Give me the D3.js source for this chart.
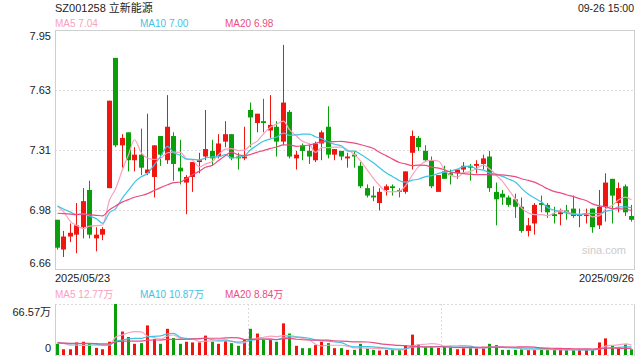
<!DOCTYPE html>
<html><head><meta charset="utf-8">
<script src="https://cdn.jsdelivr.net/npm/d3@7"></script>
<style>
body{margin:0;background:#fff}
svg{display:block;font-family:"Liberation Sans",Arial,"Noto Sans CJK SC",sans-serif}
</style>
</head><body>
<svg id="c" width="640" height="360"></svg>
<script>
// ---------- data ----------
const title = "SZ001258 立新能源";
const timeLabel = "09-26 15:00";
const dateLabels = ["2025/05/23", "2025/09/26"];
const priceTicks = [6.66, 6.9825, 7.305, 7.6275, 7.95];
const priceTickLabels = ["6.66", "6.98", "7.31", "7.63", "7.95"];
const volMax = 66.57;
const volTickLabels = ["0", "66.57万"];
const maNames = ["MA5", "MA10", "MA20"];
const maPeriods = [5, 10, 20];
const maPriceLabels = ["7.04", "7.00", "6.98"];
const maVolLabels = ["12.77万", "10.87万", "8.84万"];
const watermark = "sina.com";

const opens = [6.93,6.77,6.84,6.85,6.89,7.09,6.83,6.85,7.10,7.80,
 7.33,7.40,7.25,7.28,7.18,7.16,7.38,7.25,7.38,7.21,
 7.13,7.16,7.24,7.27,7.30,7.27,7.35,7.39,7.27,7.26,
 7.52,7.45,7.46,7.41,7.43,7.35,7.51,7.26,7.33,7.30,
 7.25,7.34,7.43,7.28,7.30,7.26,7.28,7.22,7.10,7.06,
 7.02,7.09,7.11,7.09,7.08,7.29,7.37,7.30,7.25,7.08,
 7.19,7.18,7.18,7.20,7.22,7.22,7.23,7.27,7.08,7.07,
 7.05,7.04,7.00,6.87,6.91,7.02,7.01,6.96,6.96,6.98,
 6.99,6.95,6.95,6.99,6.90,7.00,7.15,7.02,7.11,6.95];
const closes = [6.78,6.84,6.86,6.90,7.03,6.85,6.85,6.88,7.57,7.33,
 7.37,7.25,7.28,7.21,7.20,7.33,7.28,7.43,7.23,7.19,
 7.16,7.24,7.25,7.31,7.26,7.34,7.39,7.26,7.26,7.27,
 7.48,7.50,7.45,7.44,7.35,7.56,7.27,7.28,7.30,7.27,
 7.34,7.40,7.28,7.31,7.27,7.27,7.27,7.11,7.06,7.05,
 7.08,7.11,7.10,7.08,7.19,7.38,7.32,7.25,7.11,7.17,
 7.15,7.17,7.20,7.22,7.21,7.23,7.26,7.10,7.04,7.05,
 7.01,7.00,6.87,6.90,7.01,7.01,6.97,6.95,6.97,6.97,
 6.95,6.96,6.96,6.89,7.00,7.13,7.06,7.10,6.97,6.93];
const highs = [6.93,6.87,6.91,7.02,7.10,7.14,6.89,6.89,7.57,7.80,
 7.39,7.40,7.32,7.42,7.50,7.33,7.38,7.60,7.40,7.36,
 7.17,7.24,7.29,7.52,7.36,7.39,7.46,7.39,7.29,7.43,
 7.56,7.50,7.58,7.60,7.46,7.87,7.52,7.30,7.34,7.34,
 7.35,7.41,7.54,7.31,7.30,7.29,7.30,7.24,7.12,7.11,
 7.10,7.12,7.12,7.10,7.19,7.41,7.38,7.33,7.27,7.17,
 7.22,7.20,7.20,7.24,7.23,7.25,7.28,7.30,7.13,7.09,
 7.06,7.07,7.05,6.94,7.02,7.06,7.02,7.00,6.99,7.01,
 7.06,6.99,6.99,6.99,7.09,7.18,7.15,7.13,7.12,7.01];
const lows = [6.77,6.73,6.81,6.75,6.83,6.83,6.76,6.82,7.10,7.32,
 7.21,7.19,7.19,7.17,7.17,7.05,7.22,7.23,7.14,7.12,
 6.96,7.08,7.18,7.25,7.22,7.26,7.32,7.25,7.20,7.25,
 7.32,7.40,7.40,7.37,7.27,7.33,7.26,7.20,7.25,7.23,
 7.24,7.25,7.26,7.25,7.25,7.21,7.21,7.10,7.05,7.03,
 6.98,7.06,7.06,7.05,7.07,7.20,7.30,7.24,7.10,7.08,
 7.15,7.12,7.15,7.18,7.14,7.18,7.20,7.08,6.90,7.01,
 7.00,6.94,6.86,6.84,6.85,6.97,6.94,6.91,6.90,6.93,
 6.94,6.89,6.91,6.86,6.88,6.92,6.91,6.97,6.95,6.92];
// closes of the 19 sessions before the first visible one (estimated from the MA lines)
const prevCloses = [6.88,6.92,6.95,6.98,6.90,6.92,6.94,6.91,6.93,6.93,
 7.00,7.03,7.02,7.00,6.97,6.99,7.13,7.00,7.12];
// volumes in 万
const volumes = [14.6,7.5,7.5,16.4,17.3,14.6,9.3,7.5,17.3,66.57,
 30.6,23.5,14.6,15.5,38.6,20.9,14.6,34.2,22.2,14.6,
 17.3,16.4,16.4,25.3,17.3,14.6,18.2,15.5,12.0,20.9,
 34.2,28.0,20.0,20.0,17.3,41.3,28.0,12.0,8.9,8.9,
 12.9,17.3,15.5,8.9,8.9,6.7,6.7,14.6,8.4,6.7,
 5.8,6.7,6.7,6.7,12.9,26.6,13.8,10.2,10.2,9.3,
 11.1,9.3,7.5,9.3,9.3,9.3,9.3,14.6,12.9,6.7,
 6.7,6.7,7.5,6.7,7.5,7.5,6.5,6.5,6.5,6.5,
 6.5,6.5,6.5,6.7,16.4,21.7,12.0,9.3,13.8,7.5];
const prevVolumes = [14,16,18,15,13,17,16,14,15,18,16,15,14,17,16,15,19,17,18];

// ---------- layout / style ----------
const L = 55, R = 634, T = 30, B = 270, VT = 304, VB = 355;
const UP = "#f0150f", DOWN = "#0a9e0a";
const maColors = ["#fba0bf", "#3fc4e4", "#ec4c83"];
const gridColor = "#dcdcdc", frameColor = "#cfcfcf", textColor = "#222";

const svg = d3.select("#c");
const n = closes.length;
const x = d3.scaleBand().domain(d3.range(n)).range([L, R]).paddingInner(0.22).paddingOuter(0);
const cx = i => Math.floor(x(i) + x.bandwidth() / 2) + 0.5;
const y = d3.scaleLinear().domain([priceTicks[0], priceTicks[priceTicks.length - 1]]).range([B, T]);
const yv = d3.scaleLinear().domain([0, volMax]).range([VB, VT]);

function movingAvg(prev, vals, p) {
  const all = prev.concat(vals), off = prev.length;
  return vals.map((_, i) => d3.mean(all.slice(off + i - p + 1, off + i + 1)));
}

// grid
svg.append("g").selectAll("line").data(priceTicks.slice(1, -1)).join("line")
  .attr("x1", L).attr("x2", R)
  .attr("y1", d => Math.round(y(d)) + 0.5).attr("y2", d => Math.round(y(d)) + 0.5)
  .attr("stroke", gridColor).attr("stroke-dasharray", "2,2");

// main frame
svg.append("rect").attr("x", L + 0.5).attr("y", T + 0.5).attr("width", R - L).attr("height", B - T - 1)
  .attr("fill", "none").attr("stroke", frameColor);

// volume frame
[VT, VB].forEach(v => svg.append("line").attr("x1", L).attr("x2", R + 1)
  .attr("y1", v + 0.5).attr("y2", v + 0.5).attr("stroke", gridColor).attr("stroke-dasharray", "2,2"));
[L, R].forEach(v => svg.append("line").attr("x1", v + 0.5).attr("x2", v + 0.5)
  .attr("y1", VT).attr("y2", VB + 1).attr("stroke", frameColor));
[1, 2].forEach(k => {
  const vx = Math.round(L + (R - L) * k / 3) + 0.5;
  svg.append("line").attr("x1", vx).attr("x2", vx).attr("y1", VT).attr("y2", VB)
    .attr("stroke", gridColor).attr("stroke-dasharray", "2,2");
});

// watermark
svg.append("text").attr("x", 582).attr("y", 254).attr("font-size", 11)
  .attr("fill", "#cccccc").text(watermark);

// candles
const idx = d3.range(n);
const colorOf = i => closes[i] >= opens[i] ? UP : DOWN;
const cg = svg.append("g");
cg.selectAll("line").data(idx).join("line")
  .attr("x1", cx).attr("x2", cx)
  .attr("y1", i => y(highs[i])).attr("y2", i => y(lows[i]))
  .attr("stroke", colorOf).attr("stroke-width", 1);
cg.selectAll("rect").data(idx).join("rect")
  .attr("x", i => cx(i) - 2.5).attr("width", 5)
  .attr("y", i => y(Math.max(opens[i], closes[i])))
  .attr("height", i => Math.max(1, y(Math.min(opens[i], closes[i])) - y(Math.max(opens[i], closes[i]))))
  .attr("fill", colorOf);

// volume bars
svg.append("g").selectAll("rect").data(idx).join("rect")
  .attr("x", i => cx(i) - 1.5).attr("width", 3)
  .attr("y", i => yv(volumes[i])).attr("height", i => VB - yv(volumes[i]))
  .attr("fill", colorOf);

// MA lines
maPeriods.forEach((p, k) => {
  const m = movingAvg(prevCloses, closes, p);
  svg.append("path").datum(m)
    .attr("d", d3.line().x((d, i) => cx(i)).y(d => y(d)).curve(d3.curveMonotoneX))
    .attr("fill", "none").attr("stroke", maColors[k]).attr("stroke-width", 1.2);
  const mv = movingAvg(prevVolumes, volumes, p);
  svg.append("path").datum(mv)
    .attr("d", d3.line().x((d, i) => cx(i)).y(d => yv(d)).curve(d3.curveMonotoneX))
    .attr("fill", "none").attr("stroke", maColors[k]).attr("stroke-width", 1.2);
});

// texts
svg.append("text").attr("x", L).attr("y", 12).attr("font-size", 11).attr("fill", textColor).text(title);
svg.append("text").attr("x", R).attr("y", 12).attr("font-size", 10.5).attr("fill", textColor)
  .attr("text-anchor", "end").text(timeLabel);
const maX = [L, 140, 225];
maNames.forEach((nm, k) => {
  svg.append("text").attr("x", maX[k]).attr("y", 27).attr("font-size", 10).attr("fill", maColors[k])
    .text(nm + " " + maPriceLabels[k]);
  svg.append("text").attr("x", maX[k]).attr("y", 298).attr("font-size", 10).attr("fill", maColors[k])
    .text(nm + " " + maVolLabels[k]);
});
priceTicks.forEach((t, i) => {
  let yy = y(t) + 4;
  if (i === 0) yy = B - 3;
  if (i === priceTicks.length - 1) yy = T + 9.5;
  svg.append("text").attr("x", 51).attr("y", yy).attr("font-size", 11).attr("fill", textColor)
    .attr("text-anchor", "end").text(priceTickLabels[i]);
});
svg.append("text").attr("x", L).attr("y", 282).attr("font-size", 11).attr("fill", textColor).text(dateLabels[0]);
svg.append("text").attr("x", R).attr("y", 282).attr("font-size", 11).attr("fill", textColor)
  .attr("text-anchor", "end").text(dateLabels[1]);
svg.append("text").attr("x", 51).attr("y", 352).attr("font-size", 11).attr("fill", textColor)
  .attr("text-anchor", "end").text(volTickLabels[0]);
svg.append("text").attr("x", 51).attr("y", 316).attr("font-size", 11).attr("fill", textColor)
  .attr("text-anchor", "end").text(volTickLabels[1]);
</script>
</body></html>
